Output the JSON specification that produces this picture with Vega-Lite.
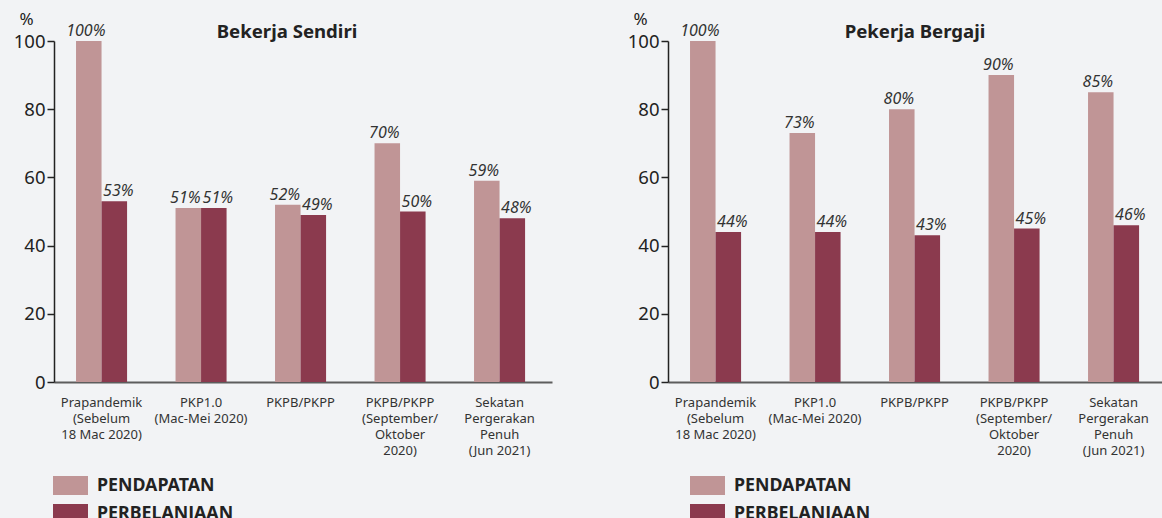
{
  "$schema": "https://vega.github.io/schema/vega-lite/v6.json",
  "autosize": {"type": "none"},
  "padding": {"left": 54, "top": 41, "right": 1108, "bottom": 477},
  "background": "#f2f3f5",
  "spacing": 116,
  "bounds": "flush",
  "config": {
    "font": "Noto Sans",
    "view": {"stroke": null},
    "title": {"fontSize": 18.6, "fontWeight": "bold", "color": "#222222", "anchor": "middle", "frame": "group"},
    "axisX": {"zindex": 1},
    "legend": {
      "orient": "none",
      "title": null,
      "direction": "vertical",
      "symbolType": "M-1,-0.543H1V0.543H-1Z",
      "symbolSize": 1225,
      "symbolStrokeWidth": 0,
      "symbolOpacity": 1,
      "labelFontSize": 17.8,
      "labelFontWeight": "bold",
      "labelColor": "#222222",
      "labelOffset": 9,
      "rowPadding": -3
    }
  },
  "data": {
    "values": [
      {"panel": "Bekerja Sendiri", "fasa": "Prapandemik\n(Sebelum\n18 Mac 2020)", "jenis": "PENDAPATAN", "nilai": 100},
      {"panel": "Bekerja Sendiri", "fasa": "PKP1.0\n(Mac-Mei 2020)", "jenis": "PENDAPATAN", "nilai": 51},
      {"panel": "Bekerja Sendiri", "fasa": "PKPB/PKPP", "jenis": "PENDAPATAN", "nilai": 52},
      {"panel": "Bekerja Sendiri", "fasa": "PKPB/PKPP\n(September/\nOktober\n2020)", "jenis": "PENDAPATAN", "nilai": 70},
      {"panel": "Bekerja Sendiri", "fasa": "Sekatan\nPergerakan\nPenuh\n(Jun 2021)", "jenis": "PENDAPATAN", "nilai": 59},
      {"panel": "Bekerja Sendiri", "fasa": "Prapandemik\n(Sebelum\n18 Mac 2020)", "jenis": "PERBELANJAAN", "nilai": 53},
      {"panel": "Bekerja Sendiri", "fasa": "PKP1.0\n(Mac-Mei 2020)", "jenis": "PERBELANJAAN", "nilai": 51},
      {"panel": "Bekerja Sendiri", "fasa": "PKPB/PKPP", "jenis": "PERBELANJAAN", "nilai": 49},
      {"panel": "Bekerja Sendiri", "fasa": "PKPB/PKPP\n(September/\nOktober\n2020)", "jenis": "PERBELANJAAN", "nilai": 50},
      {"panel": "Bekerja Sendiri", "fasa": "Sekatan\nPergerakan\nPenuh\n(Jun 2021)", "jenis": "PERBELANJAAN", "nilai": 48},
      {"panel": "Pekerja Bergaji", "fasa": "Prapandemik\n(Sebelum\n18 Mac 2020)", "jenis": "PENDAPATAN", "nilai": 100},
      {"panel": "Pekerja Bergaji", "fasa": "PKP1.0\n(Mac-Mei 2020)", "jenis": "PENDAPATAN", "nilai": 73},
      {"panel": "Pekerja Bergaji", "fasa": "PKPB/PKPP", "jenis": "PENDAPATAN", "nilai": 80},
      {"panel": "Pekerja Bergaji", "fasa": "PKPB/PKPP\n(September/\nOktober\n2020)", "jenis": "PENDAPATAN", "nilai": 90},
      {"panel": "Pekerja Bergaji", "fasa": "Sekatan\nPergerakan\nPenuh\n(Jun 2021)", "jenis": "PENDAPATAN", "nilai": 85},
      {"panel": "Pekerja Bergaji", "fasa": "Prapandemik\n(Sebelum\n18 Mac 2020)", "jenis": "PERBELANJAAN", "nilai": 44},
      {"panel": "Pekerja Bergaji", "fasa": "PKP1.0\n(Mac-Mei 2020)", "jenis": "PERBELANJAAN", "nilai": 44},
      {"panel": "Pekerja Bergaji", "fasa": "PKPB/PKPP", "jenis": "PERBELANJAAN", "nilai": 43},
      {"panel": "Pekerja Bergaji", "fasa": "PKPB/PKPP\n(September/\nOktober\n2020)", "jenis": "PERBELANJAAN", "nilai": 45},
      {"panel": "Pekerja Bergaji", "fasa": "Sekatan\nPergerakan\nPenuh\n(Jun 2021)", "jenis": "PERBELANJAAN", "nilai": 46}
    ]
  },
  "resolve": {"legend": {"color": "independent"}, "scale": {"color": "independent"}},
  "hconcat": [
    {
      "width": 498,
      "height": 341,
      "title": {"text": "Bekerja Sendiri", "dx": -16, "dy": 36},
      "transform": [{"filter": "datum.panel === 'Bekerja Sendiri'"}],
      "encoding": {
        "x": {
          "field": "fasa", "type": "nominal", "title": null,
          "sort": ["Prapandemik\n(Sebelum\n18 Mac 2020)", "PKP1.0\n(Mac-Mei 2020)", "PKPB/PKPP", "PKPB/PKPP\n(September/\nOktober\n2020)", "Sekatan\nPergerakan\nPenuh\n(Jun 2021)"],
          "scale": {"paddingInner": 0.487, "paddingOuter": 0.246, "align": 0.45},
          "axis": {"labelExpr": "split(datum.label, '\\n')", "labelAngle": 0, "labelFontSize": 13, "labelLineHeight": 16, "labelColor": "#333333", "labelPadding": 14, "ticks": false, "domainColor": "#5d5d5d", "domainWidth": 2, "labelLimit": 0}
        },
        "xOffset": {"field": "jenis", "type": "nominal", "sort": ["PENDAPATAN", "PERBELANJAAN"], "scale": {"paddingInner": 0, "paddingOuter": 0}},
        "y": {
          "field": "nilai", "type": "quantitative",
          "scale": {"domain": [0, 100]},
          "axis": {"title": "%", "titleAngle": 0, "titleX": -28, "titleY": -22, "titleAlign": "center", "titleBaseline": "middle", "titleFontSize": 17, "titleFontWeight": "normal", "titleColor": "#222222", "values": [0, 20, 40, 60, 80, 100], "grid": false, "domainColor": "#222222", "domainWidth": 1.5, "tickColor": "#222222", "tickWidth": 1.5, "tickSize": 7, "labelFontSize": 18.5, "labelColor": "#222222", "labelPadding": 2}
        }
      },
      "layer": [
        {
          "mark": {"type": "bar"},
          "encoding": {
            "color": {"field": "jenis", "type": "nominal", "sort": ["PENDAPATAN", "PERBELANJAAN"], "scale": {"range": ["#c09596", "#8b3a4e"]}, "legend": {"legendX": -1, "legendY": 427}}
          }
        },
        {
          "transform": [{"filter": "datum.jenis === 'PENDAPATAN'"}, {"calculate": "datum.nilai + '%'", "as": "lbl"}],
          "mark": {"type": "text", "baseline": "alphabetic", "dy": -5, "dx": -3, "fontStyle": "italic", "fontSize": 16, "color": "#333333"},
          "encoding": {"text": {"field": "lbl"}}
        },
        {
          "transform": [{"filter": "datum.jenis === 'PERBELANJAAN'"}, {"calculate": "datum.nilai + '%'", "as": "lbl"}],
          "mark": {"type": "text", "baseline": "alphabetic", "dy": -5, "dx": 4, "fontStyle": "italic", "fontSize": 16, "color": "#333333"},
          "encoding": {"text": {"field": "lbl"}}
        }
      ]
    },
    {
      "width": 498,
      "height": 341,
      "title": {"text": "Pekerja Bergaji", "dx": -2, "dy": 36},
      "transform": [{"filter": "datum.panel === 'Pekerja Bergaji'"}],
      "encoding": {
        "x": {
          "field": "fasa", "type": "nominal", "title": null,
          "sort": ["Prapandemik\n(Sebelum\n18 Mac 2020)", "PKP1.0\n(Mac-Mei 2020)", "PKPB/PKPP", "PKPB/PKPP\n(September/\nOktober\n2020)", "Sekatan\nPergerakan\nPenuh\n(Jun 2021)"],
          "scale": {"paddingInner": 0.487, "paddingOuter": 0.246, "align": 0.45},
          "axis": {"labelExpr": "split(datum.label, '\\n')", "labelAngle": 0, "labelFontSize": 13, "labelLineHeight": 16, "labelColor": "#333333", "labelPadding": 14, "ticks": false, "domainColor": "#5d5d5d", "domainWidth": 2, "labelLimit": 0}
        },
        "xOffset": {"field": "jenis", "type": "nominal", "sort": ["PENDAPATAN", "PERBELANJAAN"], "scale": {"paddingInner": 0, "paddingOuter": 0}},
        "y": {
          "field": "nilai", "type": "quantitative",
          "scale": {"domain": [0, 100]},
          "axis": {"title": "%", "titleAngle": 0, "titleX": -28, "titleY": -22, "titleAlign": "center", "titleBaseline": "middle", "titleFontSize": 17, "titleFontWeight": "normal", "titleColor": "#222222", "values": [0, 20, 40, 60, 80, 100], "grid": false, "domainColor": "#222222", "domainWidth": 1.5, "tickColor": "#222222", "tickWidth": 1.5, "tickSize": 7, "labelFontSize": 18.5, "labelColor": "#222222", "labelPadding": 2}
        }
      },
      "layer": [
        {
          "mark": {"type": "bar"},
          "encoding": {
            "color": {"field": "jenis", "type": "nominal", "sort": ["PENDAPATAN", "PERBELANJAAN"], "scale": {"range": ["#c09596", "#8b3a4e"]}, "legend": {"legendX": 22, "legendY": 427}}
          }
        },
        {
          "transform": [{"filter": "datum.jenis === 'PENDAPATAN'"}, {"calculate": "datum.nilai + '%'", "as": "lbl"}],
          "mark": {"type": "text", "baseline": "alphabetic", "dy": -5, "dx": -3, "fontStyle": "italic", "fontSize": 16, "color": "#333333"},
          "encoding": {"text": {"field": "lbl"}}
        },
        {
          "transform": [{"filter": "datum.jenis === 'PERBELANJAAN'"}, {"calculate": "datum.nilai + '%'", "as": "lbl"}],
          "mark": {"type": "text", "baseline": "alphabetic", "dy": -5, "dx": 4, "fontStyle": "italic", "fontSize": 16, "color": "#333333"},
          "encoding": {"text": {"field": "lbl"}}
        }
      ]
    }
  ]
}
